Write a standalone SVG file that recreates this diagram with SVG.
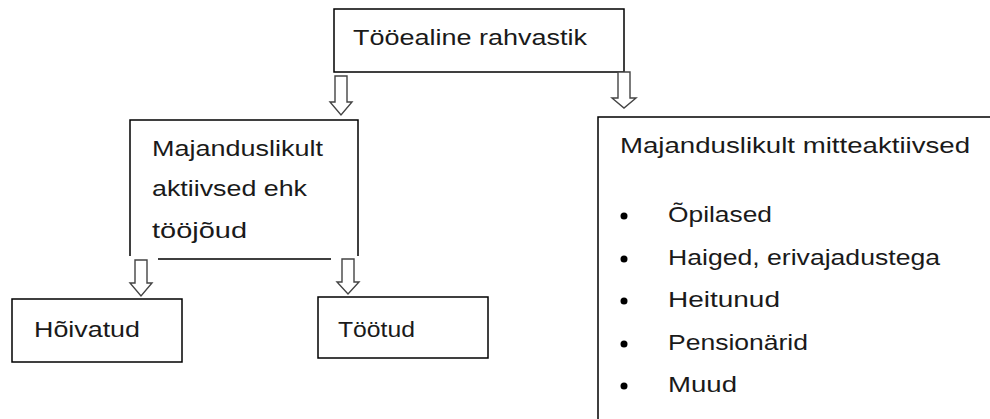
<svg xmlns="http://www.w3.org/2000/svg" width="990" height="419" viewBox="0 0 990 419">
<style>
.box{fill:#fff;stroke:#000;stroke-width:1.5}
.ln{fill:none;stroke:#000;stroke-width:1.5}
.arr{fill:#fff;stroke:#444;stroke-width:1.4;stroke-linejoin:miter}
text{font-family:"Liberation Sans",Arial,sans-serif;font-size:22px;fill:#1a1a1a}
.dot{fill:#000}
</style>
<rect width="990" height="419" fill="#fff"/>
<g id="top">
<rect class="box" x="334" y="9" width="290" height="63"/>
<text x="353" y="45" textLength="234" lengthAdjust="spacingAndGlyphs">Tööealine rahvastik</text>
</g>
<g id="active">
<path class="ln" d="M130,256 V120 H358 V256 M158,259 H331"/>
<text x="152" y="156" textLength="171" lengthAdjust="spacingAndGlyphs">Majanduslikult</text>
<text x="152" y="196" textLength="155" lengthAdjust="spacingAndGlyphs">aktiivsed ehk</text>
<text x="152" y="238" textLength="95" lengthAdjust="spacingAndGlyphs">tööjõud</text>
</g>
<g id="employed">
<rect class="box" x="12" y="299" width="170" height="63"/>
<text x="34" y="337" textLength="106" lengthAdjust="spacingAndGlyphs">Hõivatud</text>
</g>
<g id="unemployed">
<rect class="box" x="318" y="297" width="170" height="61"/>
<text x="338" y="337" textLength="77" lengthAdjust="spacingAndGlyphs">Töötud</text>
</g>
<g id="inactive">
<path class="ln" d="M598,425 V117 H995"/>
<text x="620" y="153" textLength="350" lengthAdjust="spacingAndGlyphs">Majanduslikult mitteaktiivsed</text>
<circle class="dot" cx="624" cy="216" r="3.5"/>
<text x="668" y="222" textLength="104" lengthAdjust="spacingAndGlyphs">Õpilased</text>
<circle class="dot" cx="624" cy="259" r="3.5"/>
<text x="668" y="265" textLength="272" lengthAdjust="spacingAndGlyphs">Haiged, erivajadustega</text>
<circle class="dot" cx="624" cy="301" r="3.5"/>
<text x="668" y="307" textLength="112" lengthAdjust="spacingAndGlyphs">Heitunud</text>
<circle class="dot" cx="624" cy="344" r="3.5"/>
<text x="668" y="350" textLength="140" lengthAdjust="spacingAndGlyphs">Pensionärid</text>
<circle class="dot" cx="624" cy="386" r="3.5"/>
<text x="668" y="392" textLength="69" lengthAdjust="spacingAndGlyphs">Muud</text>
</g>
<g id="connectors">
<path class="arr" d="M335,76 H347 V102 H352 L341,115 L330,102 H335 Z"/>
<path class="arr" d="M618,72 H630 V98 H636 L624,108 L612,98 H618 Z"/>
<path class="arr" d="M135,260 H147 V283 H152 L141,296 L130,283 H135 Z"/>
<path class="arr" d="M342,259 H354 V282 H359 L348,294 L337,282 H342 Z"/>
</g>
</svg>
